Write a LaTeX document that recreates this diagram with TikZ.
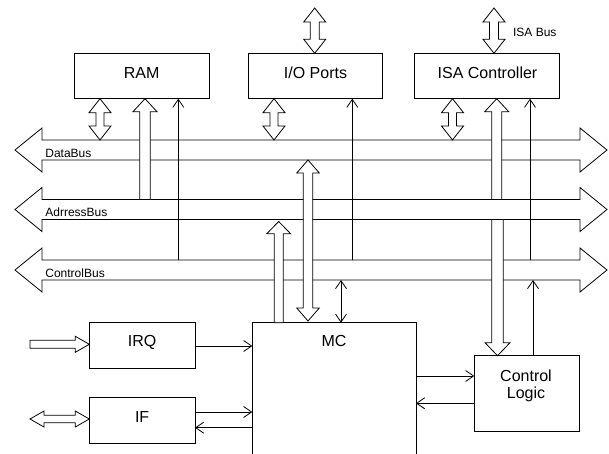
\documentclass[tikz,border=0pt]{standalone}
\usepackage{fontspec}
\setmainfont{Liberation Sans}
\usetikzlibrary{arrows.meta}
% vertical single wide arrow: x, ytail, ytip, shaft half, head half, head length
\newcommand\vsarr[6]{%
  \pgfmathsetmacro\yb{(#2>#3) ? (#3+#6) : (#3-#6)}%
  \draw[wide] (#1-#4,#2) -- (#1-#4,\yb) -- (#1-#5,\yb) -- (#1,#3) -- (#1+#5,\yb) -- (#1+#4,\yb) -- (#1+#4,#2) -- cycle;}
% vertical double wide arrow: x, y1 (top), y2 (bottom), shaft half, head half, head length
\newcommand\vdarr[6]{%
  \draw[wide] (#1,#2) -- (#1+#5,#2+#6) -- (#1+#4,#2+#6) -- (#1+#4,#3-#6) -- (#1+#5,#3-#6) -- (#1,#3)
    -- (#1-#5,#3-#6) -- (#1-#4,#3-#6) -- (#1-#4,#2+#6) -- (#1-#5,#2+#6) -- cycle;}
% horizontal double wide arrow: y, x1 (left), x2 (right), shaft half, head half, head length
\newcommand\hdarr[6]{%
  \draw[wide] (#2,#1) -- (#2+#6,#1-#5) -- (#2+#6,#1-#4) -- (#3-#6,#1-#4) -- (#3-#6,#1-#5) -- (#3,#1)
    -- (#3-#6,#1+#5) -- (#3-#6,#1+#4) -- (#2+#6,#1+#4) -- (#2+#6,#1+#5) -- cycle;}
\begin{document}
\begin{tikzpicture}[x=1pt,y=-1pt,line width=0.8pt,
  wide/.style={draw=black,fill=white,line join=miter},
  box/.style={draw,inner sep=0pt,outer sep=0pt},
  lbl/.style={inner sep=0pt,anchor=base,font=\fontsize{16}{18}\selectfont},
  small/.style={inner sep=0pt,anchor=base west,font=\fontsize{12}{14}\selectfont},
  thinarr/.style={-{Straight Barb[length=8pt,width=11pt]}},
  thindbl/.style={{Straight Barb[length=8pt,width=11pt]}-{Straight Barb[length=8pt,width=11pt]}}]
\useasboundingbox (0,0) rectangle (609,454);

% boxes
\node[box,minimum width=135.3pt,minimum height=45.4pt] (RAM) at (141.65,76) {};
\node[box,minimum width=134.4pt,minimum height=45.4pt] (IO) at (315.5,76) {};
\node[box,minimum width=145.3pt,minimum height=45.4pt] (ISA) at (486.65,76) {};
\node[box,minimum width=105.7pt,minimum height=45.6pt] (IRQ) at (142.15,345.5) {};
\node[box,minimum width=105.7pt,minimum height=46pt] (IF) at (142.15,420.3) {};
\node[box,minimum width=104.7pt,minimum height=76pt] (CL) at (526.65,393.7) {};
\coordinate (MCtl) at (252.3,322.7);
\coordinate (MCtr) at (416,322.7);
\draw (252.3,454) -- (MCtl) -- (MCtr) -- (416,454);

% box labels
\node[lbl] at (141.65,78.3) {RAM};
\node[lbl] at (315.5,78.3) {I/O Ports};
\node[lbl] at (487.5,78.3) {ISA Controller};
\node[lbl] at (142.15,346.5) {IRQ};
\node[lbl] at (142.15,422.7) {IF};
\node[lbl] at (334,346.7) {MC};
\node[lbl] at (526,381) {Control};
\node[lbl] at (526,398.8) {Logic};

% buses
\hdarr{150}{15}{607}{10}{22}{27}
\hdarr{209.5}{15}{607}{10}{22}{27}
\hdarr{270}{15}{607}{10}{22}{27}
\node[small] at (45,157.7) {DataBus};
\node[small] at (45,216.9) {AdrressBus};
\node[small] at (45,277.3) {ControlBus};

% thin connectors
\coordinate (c1) at (178.3,260);
\draw[thinarr] (c1) -- (c1 |- RAM.south);
\coordinate (c2) at (352.3,260);
\draw[thinarr] (c2) -- (c2 |- IO.south);
\coordinate (c3) at (530,260);
\draw[thinarr] (c3) -- (c3 |- ISA.south);
\coordinate (c4) at (533,280);
\draw[thinarr] (c4 |- CL.north) -- (c4);
\coordinate (c5) at (341,280);
\draw[thindbl] (c5) -- (c5 |- MCtl);
\coordinate (e1) at (195,346);
\draw[thinarr] (e1) -- (e1 -| MCtl);
\coordinate (f1) at (195,412);
\draw[thinarr] (f1) -- (f1 -| MCtl);
\coordinate (f2) at (195,427.7);
\draw[thinarr] (f2 -| MCtl) -- (f2);
\coordinate (g1) at (416,376);
\draw[thinarr] (g1) -- (g1 -| CL.west);
\coordinate (g2) at (416,403.3);
\draw[thinarr] (g2 -| CL.west) -- (g2);

% wide arrows
\vdarr{314.7}{8}{53.3}{4.5}{11}{14}
\vdarr{494}{8}{53.3}{4.5}{11}{14}
\node[small] at (512.7,36.7) {ISA Bus};
\vdarr{100}{98.7}{140}{4}{11}{14}
\vdarr{274}{98.7}{140}{4}{11}{14}
\vdarr{452.5}{98.7}{140}{4}{11}{14}
\vsarr{145}{199.5}{98.7}{5.3}{12}{13}
\vsarr{496.7}{199.5}{98.7}{5}{12}{13}
\vsarr{497.5}{219.5}{355.7}{5.8}{12.5}{13}
\vsarr{278.7}{322.7}{221.5}{4.5}{12}{12.3}
\vdarr{308}{160}{321}{4.7}{11.3}{13}

% left inputs
\draw[wide] (30,340.3) -- (75.3,340.3) -- (75.3,336.3) -- (IRQ.west |- 0,344.3) -- (75.3,352.3) -- (75.3,348.3) -- (30,348.3) -- cycle;
\hdarr{419}{30}{89.3}{3.8}{8}{14}
\end{tikzpicture}
\end{document}
